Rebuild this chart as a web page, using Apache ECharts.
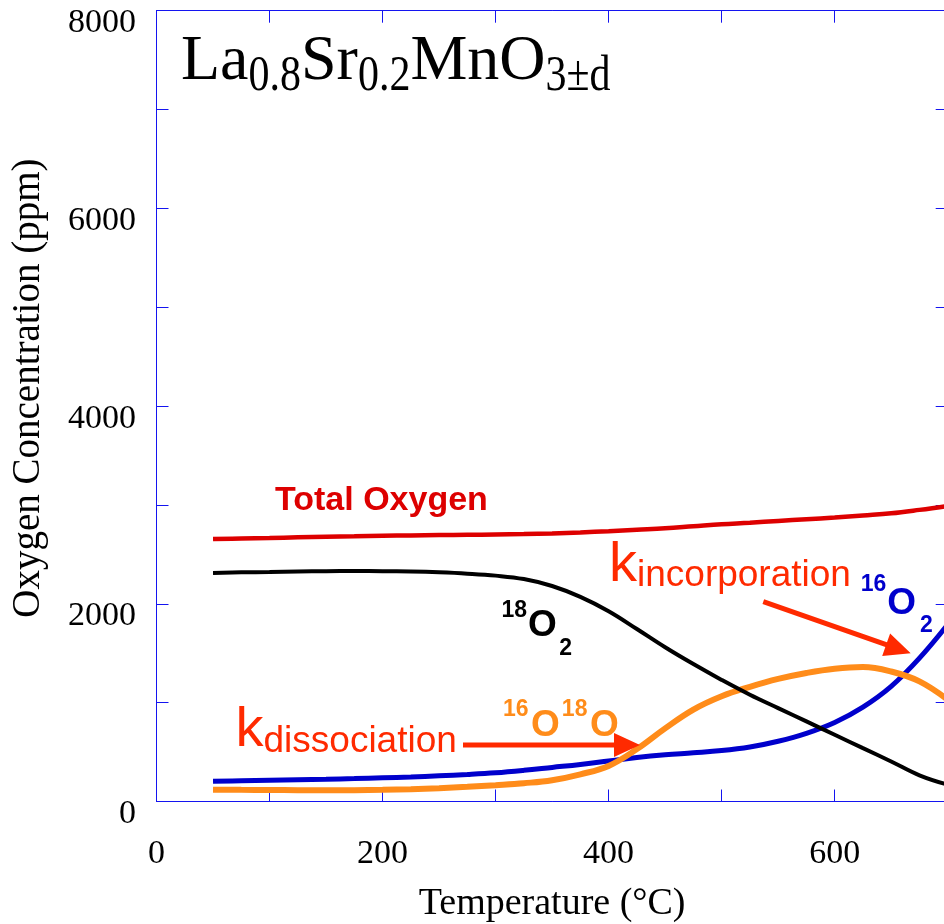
<!DOCTYPE html>
<html>
<head>
<meta charset="utf-8">
<script src="https://cdn.jsdelivr.net/npm/echarts@6/dist/echarts.min.js"></script>
<style>
  html, body { margin: 0; padding: 0; width: 944px; height: 924px; overflow: hidden; background: #fff; }
  #chart { width: 952px; height: 924px; }
</style>
</head>
<body>
<div id="chart"></div>
<script>
// Temperature grid (°C) shared by every trace
const temperatures = [50, 75, 100, 125, 150, 175, 200, 225, 250, 275, 300, 325, 350, 375,
  400, 425, 450, 475, 500, 525, 550, 575, 600, 625, 650, 675, 700];

// Oxygen concentrations (ppm)
const totalOxygen = [2655, 2660, 2665, 2672, 2678, 2683, 2688, 2692, 2695, 2698, 2701, 2705, 2712, 2722,
  2735, 2750, 2765, 2785, 2805, 2820, 2838, 2855, 2872, 2893, 2915, 2950, 2990];
const o18o2 = [2311, 2318, 2322, 2328, 2330, 2331, 2330, 2326, 2318, 2305, 2285, 2250, 2180, 2070,
  1925, 1745, 1560, 1390, 1230, 1080, 945, 810, 675, 540, 405, 265, 170];
const o16o2 = [205, 210, 215, 220, 225, 232, 240, 248, 260, 273, 290, 315, 345, 375,
  410, 445, 472, 492, 515, 552, 610, 690, 800, 955, 1165, 1450, 1790];
const o16o18o = [120, 118, 117, 115, 113, 114, 118, 125, 135, 148, 165, 185, 215, 275,
  360, 530, 740, 930, 1065, 1160, 1240, 1300, 1343, 1360, 1315, 1215, 1030];

// Labelled ticks
const xTickLabels = [0, 200, 400, 600];
const yTickLabels = [0, 2000, 4000, 6000, 8000];

const SERIF = '"Liberation Serif", "Times New Roman", Times, serif';
const SANS = '"Liberation Sans", Arial, Helvetica, sans-serif';
const AXIS_BLUE = '#1414f0';
const RED = '#dd0000';
const BLUE = '#0000cc';
const ORANGE = '#ff8c1a';
const K_RED = '#ff2a00';

function pairs(ys) { return temperatures.map((t, i) => [t, ys[i]]); }

// ---- annotation helpers (text runs with sub/superscripts, arrows) ----
const measureCtx = document.createElement('canvas').getContext('2d');
function runs(x0, family, weight, color, parts) {
  const mid = family === SERIF ? 0.3375 : 0.3465;
  const els = [];
  let x = x0;
  parts.forEach(p => {
    x += p.dx || 0;
    measureCtx.font = weight + ' ' + p.size + 'px ' + family;
    const w = measureCtx.measureText(p.t).width;
    els.push({
      type: 'text', x: x, y: p.base, scaleY: p.sy || 1, silent: true, z: 100,
      style: {
        text: p.t, x: 0, y: -mid * p.size, fill: color,
        fontFamily: family, fontSize: p.size, fontWeight: weight,
        align: 'left', verticalAlign: 'middle'
      }
    });
    x += w;
  });
  return els;
}
function arrow(x1, y1, x2, y2, color) {
  const shaft = 5, headLen = 26, headHalf = 12;
  const L = Math.hypot(x2 - x1, y2 - y1);
  const ux = (x2 - x1) / L, uy = (y2 - y1) / L;
  const nx = -uy, ny = ux;
  const bx = x2 - ux * headLen, by = y2 - uy * headLen;
  const s = shaft / 2;
  return {
    type: 'polygon', silent: true, z: 90,
    shape: { points: [
      [x1 + nx * s, y1 + ny * s], [bx + nx * s, by + ny * s], [bx + nx * headHalf, by + ny * headHalf],
      [x2, y2],
      [bx - nx * headHalf, by - ny * headHalf], [bx - nx * s, by - ny * s], [x1 - nx * s, y1 - ny * s]
    ] },
    style: { fill: color }
  };
}

const graphics = [].concat(
  runs(181, SERIF, 'normal', '#000', [
    { t: 'La', size: 64, base: 83.3 },
    { t: '0.8', size: 42, base: 94, sy: 1.22 },
    { t: 'Sr', size: 64, base: 83.3 },
    { t: '0.2', size: 42, base: 94, sy: 1.22 },
    { t: 'MnO', size: 64, base: 83.3 },
    { t: '3±d', size: 42, base: 94, sy: 1.22 }
  ]),
  runs(275, SANS, 'bold', RED, [{ t: 'Total Oxygen', size: 34, base: 512.3 }]),
  runs(501.5, SANS, 'bold', '#000', [
    { t: '18', size: 23, base: 618.3 },
    { t: 'O', size: 37, base: 638.3, dx: 1 },
    { t: '2', size: 23, base: 656.7, dx: 2.5 }
  ]),
  runs(503, SANS, 'bold', ORANGE, [
    { t: '16', size: 23, base: 717.3 },
    { t: 'O', size: 37, base: 738.3, dx: 2.5 },
    { t: '18', size: 23, base: 717.3, dx: 2 },
    { t: 'O', size: 37, base: 738.3, dx: 2.5 }
  ]),
  runs(860.7, SANS, 'bold', BLUE, [
    { t: '16', size: 23, base: 592.7 },
    { t: 'O', size: 37, base: 616.7, dx: 1 },
    { t: '2', size: 23, base: 633.3, dx: 4 }
  ]),
  runs(235.5, SANS, 'normal', K_RED, [
    { t: 'k', size: 56, base: 750 },
    { t: 'dissociation', size: 37, base: 755 }
  ]),
  runs(609, SANS, 'normal', K_RED, [
    { t: 'k', size: 56, base: 585 },
    { t: 'incorporation', size: 37, base: 588.3 }
  ]),
  [arrow(463, 745, 640, 745, K_RED), arrow(763.3, 601.7, 910.7, 653.3, K_RED)]
);

const axisLine = { show: true, onZero: false, lineStyle: { color: AXIS_BLUE, width: 1 } };
const axisTick = { show: true, inside: true, length: 12, lineStyle: { color: AXIS_BLUE, width: 1 } };

const chart = echarts.init(document.getElementById('chart'), null, { renderer: 'canvas' });
chart.setOption({
  animation: false,
  backgroundColor: '#fff',
  grid: { left: 156.5, right: 4.3, top: 10.7, bottom: 122.5, containLabel: false, outerBoundsMode: 'none' },
  xAxis: [
    {
      type: 'value', min: 0, max: 700, interval: 100, position: 'bottom',
      axisLine: axisLine, axisTick: axisTick, splitLine: { show: false },
      axisLabel: {
        formatter: v => (xTickLabels.includes(v) ? String(v) : ''),
        fontFamily: SERIF, fontSize: 34, color: '#000', margin: 35.5
      },
      name: 'Temperature (°C)', nameLocation: 'middle', nameGap: 84,
      nameTextStyle: { fontFamily: SERIF, fontSize: 38, color: '#000' }
    },
    {
      type: 'value', min: 0, max: 700, interval: 100, position: 'top',
      axisLine: axisLine, axisTick: axisTick, splitLine: { show: false },
      axisLabel: { show: false }
    }
  ],
  yAxis: [
    {
      type: 'value', min: 0, max: 8000, interval: 1000, position: 'left',
      axisLine: axisLine, axisTick: axisTick, splitLine: { show: false },
      axisLabel: {
        formatter: v => (yTickLabels.includes(v) ? String(v) : ''),
        fontFamily: SERIF, fontSize: 34, color: '#000', margin: 20.5,
        verticalAlign: 'top', lineHeight: 25
      },
      name: 'Oxygen Concentration (ppm)', nameLocation: 'middle', nameGap: 108.5,
      nameTextStyle: { fontFamily: SERIF, fontSize: 39, color: '#000', padding: [0, 0, 0, 36] }
    },
    {
      type: 'value', min: 0, max: 8000, interval: 1000, position: 'right',
      axisLine: axisLine, axisTick: axisTick, splitLine: { show: false },
      axisLabel: { show: false }
    }
  ],
  series: [
    { name: '16O2', type: 'line', data: pairs(o16o2), smooth: 0.4, showSymbol: false,
      lineStyle: { color: BLUE, width: 5 } },
    { name: '16O18O', type: 'line', data: pairs(o16o18o), smooth: 0.4, showSymbol: false,
      lineStyle: { color: ORANGE, width: 6 } },
    { name: '18O2', type: 'line', data: pairs(o18o2), smooth: 0.4, showSymbol: false,
      lineStyle: { color: '#000', width: 4 } },
    { name: 'Total Oxygen', type: 'line', data: pairs(totalOxygen), smooth: 0.4, showSymbol: false,
      lineStyle: { color: RED, width: 4.5 } }
  ],
  graphic: graphics
});
</script>
</body>
</html>
